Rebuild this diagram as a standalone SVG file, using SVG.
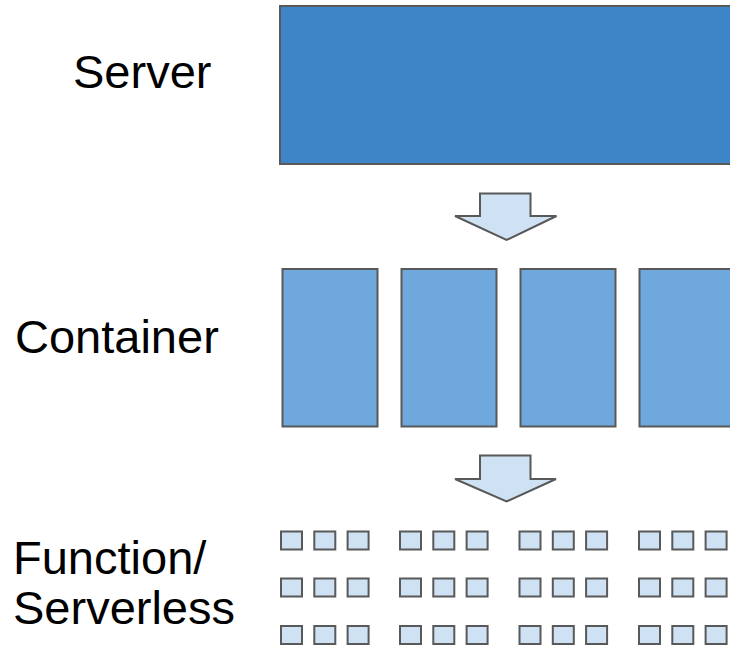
<svg xmlns="http://www.w3.org/2000/svg" width="730" height="645" viewBox="0 0 730 645">
<defs>
<style>
.lbl{font-family:"Liberation Sans",Arial,sans-serif;font-size:47px;fill:#000}
.srv{fill:#3d85c6;stroke:#595959;stroke-width:2}
.ctr{fill:#6fa8dc;stroke:#595959;stroke-width:2}
.fn{fill:#cfe2f3;stroke:#595959;stroke-width:2}
.arr{fill:#cfe2f3;stroke:#595959;stroke-width:2;stroke-linejoin:miter}
</style>
<rect id="sq" class="fn" width="21" height="18"/>
<g id="trio">
<use href="#sq" x="0"/>
<use href="#sq" x="33.3"/>
<use href="#sq" x="66.6"/>
</g>
<g id="row">
<use href="#trio" x="0"/>
<use href="#trio" x="119"/>
<use href="#trio" x="238.5"/>
<use href="#trio" x="358"/>
</g>
</defs>
<rect width="730" height="645" fill="#fff"/>
<g id="labels">
<text class="lbl" x="73" y="88">Server</text>
<text class="lbl" x="15" y="353">Container</text>
<text class="lbl" x="13" y="574">Function/</text>
<text class="lbl" x="13" y="624">Serverless</text>
</g>
<g id="server">
<rect class="srv" x="280" y="6" width="460" height="158"/>
</g>
<g id="containers">
<rect class="ctr" x="282.5" y="269" width="95" height="157.5"/>
<rect class="ctr" x="401.5" y="269" width="95" height="157.5"/>
<rect class="ctr" x="520.5" y="269" width="95" height="157.5"/>
<rect class="ctr" x="639.5" y="269" width="100" height="157.5"/>
</g>
<g id="functions">
<use href="#row" x="281" y="531.5"/>
<use href="#row" x="281" y="578.5"/>
<use href="#row" x="281" y="626"/>
</g>
<g id="connectors">
<polygon class="arr" points="480,193.5 530.5,193.5 530.5,216 556.5,216 506.5,240 455,216 480,216"/>
<polygon class="arr" points="480,455.5 530.5,455.5 530.5,479 556,479 506.5,501.5 455,479 480,479"/>
</g>
</svg>
